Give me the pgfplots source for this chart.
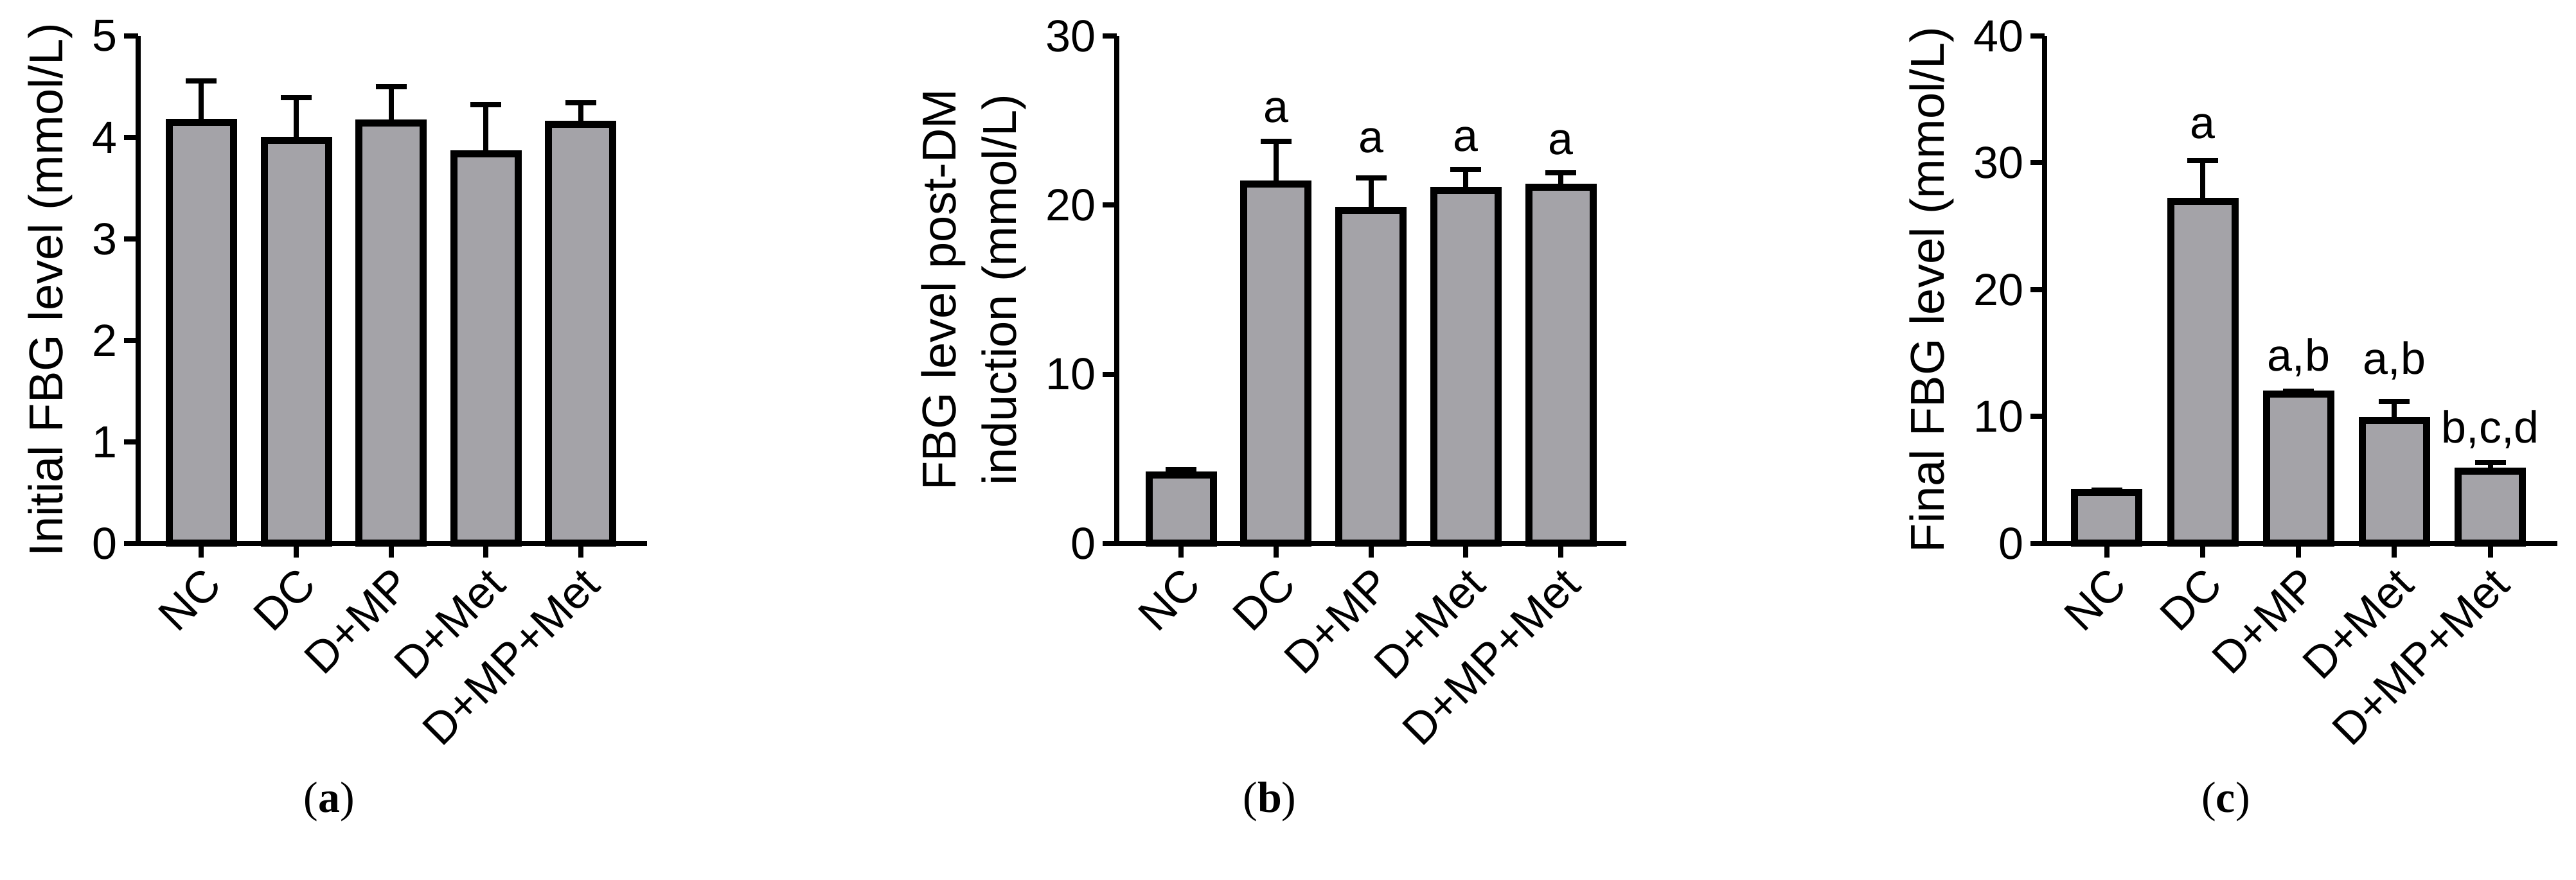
\documentclass[border=0pt]{standalone}
\usepackage{fontspec}
\setmainfont{Liberation Sans}
\newfontfamily\capserif{Liberation Serif}
\usepackage{pgfplots}
\pgfplotsset{compat=1.18}
\definecolor{barfill}{RGB}{164,163,168}
\newcommand{\tickfont}{\fontsize{17.5}{21}\selectfont}
\newcommand{\labfont}{\fontsize{18.5}{23.5}\selectfont}
\pgfplotsset{
  panel/.style={
    scale only axis,
    height=197.5pt,
    ymin=0,
    axis x line=bottom,
    axis y line=left,
    axis line style={-, line width=2pt, black},
    tick align=outside,
    major tick length=5.5pt,
    tick style={line width=2pt, black},
    minor tick num=0,
    xtick={0,1,2,3,4},
    xticklabels={NC,DC,D+MP,D+Met,D+MP+Met},
    xticklabel style={font=\tickfont, rotate=45, anchor=north east, inner sep=2pt},
    yticklabel style={font=\tickfont, inner sep=2.5pt},
    /pgf/number format/assume math mode=true,
    ylabel style={font=\labfont, at={(ticklabel cs:0.5,5pt)}, anchor=south, inner sep=0pt, align=center},
    clip=false,
  },
  bars/.style={
    ybar, bar width=25pt, fill=barfill, draw=black, line width=2.75pt,
    error bars/.cd, y dir=plus, y explicit,
    error bar style={line width=2pt, black},
    error mark options={rotate=90, mark size=6pt, line width=2pt, black},
  },
}
\begin{document}
\begin{tikzpicture}
\useasboundingbox (0,0) rectangle (1002.25pt,342.5pt);

% (a)
\begin{axis}[panel, at={(53.75pt,131pt)}, anchor=south west,
  width=198pt, xmin=-0.667, xmax=4.70, ymax=5, ytick={0,1,2,3,4,5},
  ylabel={Initial FBG level (mmol/L)}]
\addplot[bars] coordinates {
  (0,4.15) += (0,0.41)
  (1,3.97) += (0,0.42)
  (2,4.14) += (0,0.36)
  (3,3.84) += (0,0.48)
  (4,4.13) += (0,0.21)
};
\end{axis}

% (b)
\begin{axis}[panel, at={(434.5pt,131pt)}, anchor=south west,
  width=198.25pt, xmin=-0.677, xmax=4.69, ymax=30, ytick={0,10,20,30},
  ylabel={FBG level post-DM\\induction (mmol/L)}]
\addplot[bars] coordinates {
  (0,4.03) += (0,0.34)
  (1,21.25) += (0,2.52)
  (2,19.7) += (0,1.9)
  (3,20.85) += (0,1.25)
  (4,21.05) += (0,0.85)
};
\node[anchor=base, font=\tickfont, inner sep=0pt] at (axis cs:1,24.9) {a};
\node[anchor=base, font=\tickfont, inner sep=0pt] at (axis cs:2,23.1) {a};
\node[anchor=base, font=\tickfont, inner sep=0pt] at (axis cs:3,23.2) {a};
\node[anchor=base, font=\tickfont, inner sep=0pt] at (axis cs:4,23.0) {a};
\end{axis}

% (c)
\begin{axis}[panel, at={(795.5pt,131pt)}, anchor=south west,
  width=199.5pt, xmin=-0.65, xmax=4.70, ymax=40, ytick={0,10,20,30,40},
  ylabel={Final FBG level (mmol/L)}]
\addplot[bars] coordinates {
  (0,4.05) += (0,0.15)
  (1,26.96) += (0,3.24)
  (2,11.75) += (0,0.25)
  (3,9.7) += (0,1.5)
  (4,5.7) += (0,0.7)
};
\node[anchor=base, font=\tickfont, inner sep=0pt] at (axis cs:1,31.9) {a};
\node[anchor=base, font=\tickfont, inner sep=0pt] at (axis cs:2,13.57) {a,b};
\node[anchor=base, font=\tickfont, inner sep=0pt] at (axis cs:3,13.35) {a,b};
\node[anchor=base, font=\tickfont, inner sep=0pt] at (axis cs:4,7.94) {b,c,d};
\end{axis}

\node[font={\capserif\fontsize{17}{20}\selectfont}] at (128pt,30.5pt) {(\textbf{a})};
\node[font={\capserif\fontsize{17}{20}\selectfont}] at (494pt,30.5pt) {(\textbf{b})};
\node[font={\capserif\fontsize{17}{20}\selectfont}] at (866pt,30.5pt) {(\textbf{c})};
\end{tikzpicture}
\end{document}
